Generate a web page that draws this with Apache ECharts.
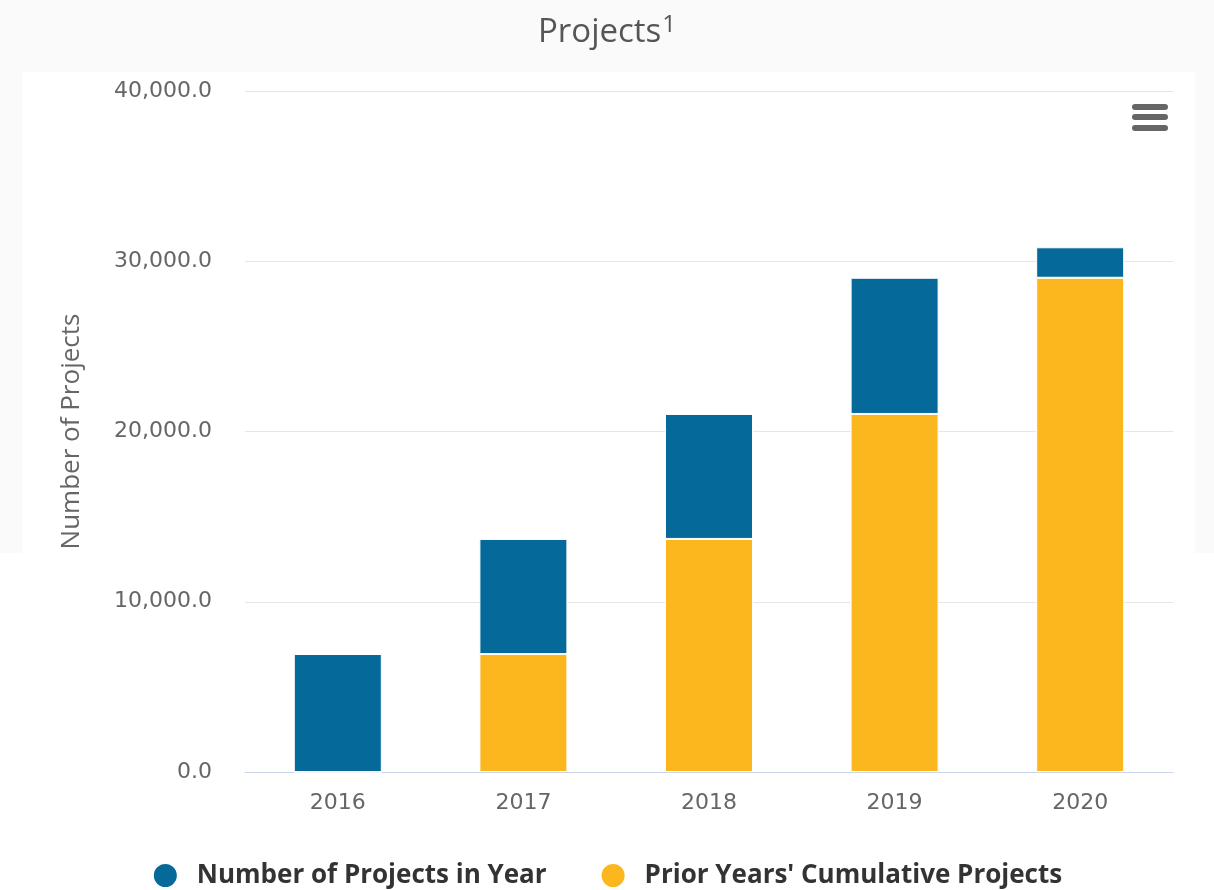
<!DOCTYPE html>
<html>
<head>
<meta charset="utf-8">
<title>Projects</title>
<script src="https://cdn.jsdelivr.net/npm/echarts@6/dist/echarts.min.js"></script>
<style>
  html, body { margin: 0; padding: 0; background: #ffffff; }
  #chart { width: 1214px; height: 890px; }
</style>
</head>
<body>
<div id="chart"></div>
<script>
// Years shown on the category axis
const years = ['2016', '2017', '2018', '2019', '2020'];
// Projects started within each year (top segment)
const projectsInYear = [6930, 6760, 7340, 8000, 1790];
// Running total of projects from all earlier years (bottom segment)
const priorCumulative = [0, 6930, 13690, 21030, 29030];
// Value axis ticks
const yTicks = [0, 10000, 20000, 30000, 40000];

const BLUE = '#05699a';
const GOLD = '#fcb71e';

const chart = echarts.init(document.getElementById('chart'), null, { renderer: 'canvas' });

const fmt = v => v.toLocaleString('en-US', { minimumFractionDigits: 1, maximumFractionDigits: 1 });

chart.setOption({
  backgroundColor: '#ffffff',
  animation: false,
  title: {
    text: 'Projects{sup|1}',
    left: 'center',
    top: 8,
    textStyle: {
      fontFamily: 'Open Sans',
      fontSize: 33,
      fontWeight: 'normal',
      color: '#555555',
      rich: {
        sup: {
          fontFamily: 'Open Sans',
          fontSize: 24,
          color: '#555555',
          verticalAlign: 'top',
          padding: [0, 0, 16, 1]
        }
      }
    }
  },
  graphic: [
    { type: 'rect', z: -100, silent: true, shape: { x: 0, y: 0, width: 1214, height: 553 }, style: { fill: '#fafafa' } },
    { type: 'rect', z: -99, silent: true, shape: { x: 22, y: 72, width: 1173, height: 481 }, style: { fill: '#ffffff' } },
    // context menu glyph
    { type: 'rect', z: 10, shape: { x: 1132, y: 104, width: 36, height: 6, r: 3 }, style: { fill: '#666666' } },
    { type: 'rect', z: 10, shape: { x: 1132, y: 114, width: 36, height: 6, r: 3 }, style: { fill: '#666666' } },
    { type: 'rect', z: 10, shape: { x: 1132, y: 125, width: 36, height: 6, r: 3 }, style: { fill: '#666666' } }
  ],
  legend: {
    data: ['Number of Projects in Year', "Prior Years' Cumulative Projects"],
    top: 857,
    left: 'center',
    icon: 'circle',
    itemWidth: 25,
    itemHeight: 25,
    itemGap: 53,
    textStyle: {
      fontFamily: 'Open Sans',
      fontSize: 26,
      lineHeight: 26,
      fontWeight: 'bold',
      color: '#333333',
      padding: [0, 0, 0, 14]
    }
  },
  grid: { left: 245, right: 41, top: 91, bottom: 118 },
  xAxis: {
    type: 'category',
    data: years,
    axisLine: { lineStyle: { color: '#ccd6eb', width: 1 } },
    axisTick: { show: false },
    axisLabel: { fontFamily: 'DejaVu Sans', fontSize: 22, color: '#666666', margin: 20 }
  },
  yAxis: {
    type: 'value',
    min: yTicks[0],
    max: yTicks[yTicks.length - 1],
    interval: yTicks[1] - yTicks[0],
    name: 'Number of Projects',
    nameLocation: 'middle',
    nameGap: 160,
    nameTextStyle: { fontFamily: 'Open Sans', fontSize: 26, color: '#666666' },
    axisLine: { show: false },
    axisTick: { show: false },
    axisLabel: { fontFamily: 'DejaVu Sans', fontSize: 22, color: '#666666', margin: 33, formatter: fmt },
    splitLine: { lineStyle: { color: '#e6e6e6', width: 1 } }
  },
  series: [
    {
      name: "Prior Years' Cumulative Projects",
      type: 'bar',
      stack: 'total',
      data: priorCumulative,
      barWidth: 88,
      itemStyle: { color: GOLD, borderColor: '#ffffff', borderWidth: 1 }
    },
    {
      name: 'Number of Projects in Year',
      type: 'bar',
      stack: 'total',
      data: projectsInYear,
      barWidth: 88,
      itemStyle: { color: BLUE, borderColor: '#ffffff', borderWidth: 1 }
    }
  ]
});
</script>
</body>
</html>
